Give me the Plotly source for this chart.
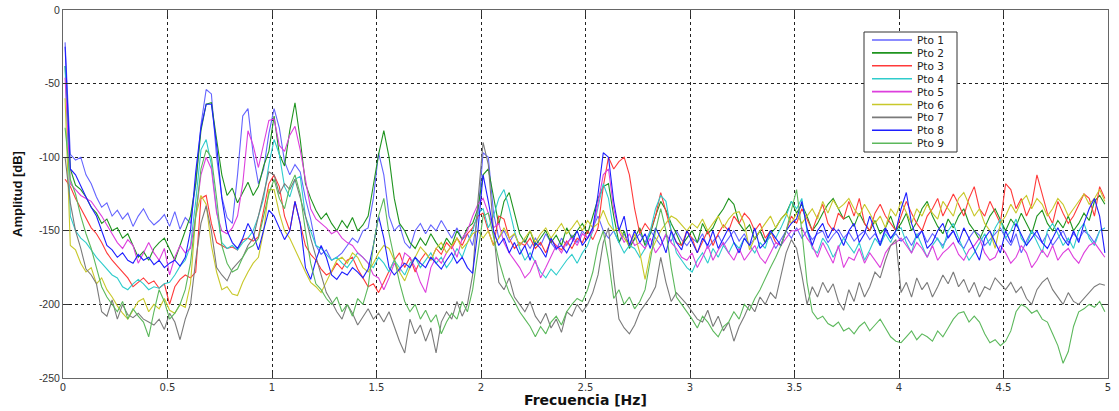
import numpy as np
import plotly.graph_objects as go

# Frequency bins [Hz]
freq = np.round(0.01 + 0.025 * np.arange(200), 4)

names = ["Pto 1", "Pto 2", "Pto 3", "Pto 4", "Pto 5", "Pto 6", "Pto 7", "Pto 8", "Pto 9"]

pto1 = [
    -22, -98, -102, -100, -112, -118, -127, -134, -131, -140,
    -136, -142, -138, -147, -140, -135, -142, -146, -143, -139,
    -147, -137, -149, -141, -145, -118, -78, -54, -57, -100,
    -127, -141, -145, -112, -72, -67, -98, -118, -108, -84,
    -67, -80, -103, -112, -105, -110, -128, -142, -160, -166,
    -163, -170, -168, -165, -160, -155, -158, -150, -148, -128,
    -97, -112, -140, -150, -146, -158, -162, -150, -145, -152,
    -146, -150, -143, -149, -155, -148, -156, -152, -160, -140,
    -97, -100, -138, -155, -150, -158, -152, -160, -156, -162,
    -155, -160, -152, -158, -163, -155, -160, -153, -158, -150,
    -155, -148, -140, -150, -155, -150, -158, -152, -160, -156,
    -152, -158, -150, -155, -160, -153, -157, -150, -156, -160,
    -155, -158, -152, -162, -157, -153, -160, -155, -150, -157,
    -152, -160, -155, -150, -158, -154, -162, -156, -150, -155,
    -148, -155, -150, -156, -152, -150, -158, -153, -149, -155,
    -151, -157, -153, -150, -156, -152, -158, -150, -155, -152,
    -157, -154, -160, -153, -150, -158, -152, -156, -160, -154,
    -150, -158, -162, -155, -150, -153, -160, -156, -152, -148,
    -155, -160, -152, -165, -157, -150, -154, -158, -152, -160,
    -155, -150, -158, -152, -156, -150, -153, -158, -150, -148,
]

pto2 = [
    -38, -108, -119, -122, -127, -134, -138, -145, -142, -150,
    -148, -155, -152, -160, -168, -164, -170, -162, -158, -155,
    -163, -170, -160, -150, -140, -118, -82, -64, -63, -88,
    -112, -126, -121, -131, -124, -117, -126, -120, -106, -96,
    -72, -98, -106, -82, -63, -88, -118, -128, -136, -142,
    -138, -145, -150, -143, -148, -141, -150, -146, -140, -120,
    -98, -82, -100, -128, -145, -150, -158, -162, -155, -160,
    -152, -158, -163, -155, -160, -150, -156, -148, -145, -135,
    -112, -108, -128, -146, -130, -124, -138, -152, -158, -150,
    -160, -155, -150, -158, -153, -160, -148, -155, -150, -145,
    -152, -140, -128, -120, -118, -140, -158, -150, -162, -155,
    -148, -160, -152, -140, -130, -136, -145, -152, -160, -155,
    -150, -158, -145, -152, -148, -140, -135, -128, -132, -145,
    -150, -146, -156, -150, -158, -152, -148, -142, -138, -130,
    -138, -132, -140, -150, -145, -138, -132, -128, -135, -142,
    -140, -147, -138, -145, -150, -143, -152, -148, -140, -150,
    -145, -138, -150, -144, -135, -130, -140, -147, -152, -142,
    -148, -140, -135, -145, -150, -156, -148, -140, -135, -143,
    -150, -142, -147, -138, -145, -152, -140, -136, -145, -150,
    -143, -148, -140, -150, -145, -138, -143, -130, -126, -132,
]

pto3 = [
    -115, -120, -128, -135, -142, -148, -152, -158, -165, -170,
    -174, -178, -182, -188, -185, -182, -186, -184, -189, -186,
    -200, -188, -183, -180, -182, -178, -128, -126, -145, -158,
    -160, -162, -161, -163, -156, -155, -157, -154, -136, -118,
    -112, -120, -140, -150, -130, -145, -160, -166, -170, -176,
    -180, -178, -172, -176, -170, -168, -176, -182, -188, -186,
    -192, -185, -178, -170, -165, -175, -168, -178, -170, -165,
    -170, -162, -166, -158, -162, -155, -160, -152, -148, -140,
    -138, -150, -160, -140, -142, -155, -162, -158, -160, -155,
    -162, -158, -165, -156, -160, -163, -157, -162, -155, -158,
    -150, -156, -148, -120, -100, -108, -103, -100, -112, -135,
    -152, -145, -150, -140, -124, -138, -150, -158, -160, -150,
    -155, -165, -158, -150, -160, -152, -146, -150, -140, -145,
    -138, -142, -150, -145, -155, -150, -158, -160, -150, -140,
    -145, -135, -142, -150, -140, -132, -145, -150, -138, -142,
    -130, -140, -128, -145, -150, -138, -132, -140, -145, -150,
    -140, -130, -138, -145, -150, -140, -135, -128, -140, -132,
    -125, -132, -140, -128, -120, -135, -140, -130, -138, -145,
    -118, -122, -135, -128, -140, -132, -112, -125, -138, -145,
    -130, -138, -145, -140, -132, -125, -128, -140, -120, -128,
]

pto4 = [
    -38, -140, -150, -155, -158, -163, -168, -172, -176, -180,
    -182, -188, -190, -186, -183, -186, -190, -188, -189, -186,
    -185, -180, -174, -170, -160, -130, -95, -88, -105, -136,
    -158, -162, -160, -163, -158, -155, -150, -140, -128, -105,
    -88, -98, -120, -127, -115, -113, -140, -150, -160, -162,
    -166, -170, -168, -172, -175, -170, -165, -168, -172, -175,
    -168, -172, -178, -170, -175, -180, -172, -168, -175, -170,
    -165, -172, -168, -175, -170, -162, -168, -158, -150, -138,
    -135, -148, -140, -128, -122, -135, -150, -162, -170, -165,
    -172, -178, -182, -176, -180, -175, -170, -166, -172, -165,
    -160, -150, -135, -118, -128, -150, -158, -165, -160, -162,
    -168, -162, -150, -135, -126, -130, -150, -165, -170, -175,
    -178, -170, -165, -172, -162, -168, -160, -165, -158, -162,
    -155, -160, -165, -158, -162, -150, -155, -148, -140, -130,
    -135, -128, -150, -162, -165, -155, -160, -168, -162, -155,
    -160, -165, -158, -170, -163, -155, -160, -152, -158, -150,
    -148, -158, -165, -152, -160, -168, -160, -155, -162, -150,
    -145, -155, -163, -170, -165, -158, -152, -160, -148, -142,
    -155, -150, -142, -155, -160, -150, -158, -165, -150, -145,
    -152, -160, -155, -162, -150, -145, -155, -160, -150, -148,
]

pto5 = [
    -46, -118, -122, -126, -128, -130, -135, -140, -146, -152,
    -158, -162, -156, -160, -172, -165, -158, -165, -170, -162,
    -180, -168, -160, -165, -162, -140, -112, -100, -108, -138,
    -150, -152, -148, -140, -118, -82, -92, -107, -90, -75,
    -74, -92, -96, -85, -79, -95, -115, -135, -142, -145,
    -148, -152, -150, -155, -158, -160, -165, -168, -172, -180,
    -182, -190, -182, -172, -178, -165, -168, -175, -185, -192,
    -175, -168, -172, -165, -160, -168, -155, -150, -140, -132,
    -128, -138, -148, -145, -158, -165, -170, -175, -182, -178,
    -170, -182, -175, -168, -160, -165, -158, -155, -160, -152,
    -155, -150, -130, -112, -108, -135, -150, -158, -152, -160,
    -158, -162, -155, -165, -160, -152, -158, -162, -168, -170,
    -165, -175, -168, -160, -170, -163, -158, -165, -170, -162,
    -170, -165, -160, -168, -172, -165, -158, -160, -155, -150,
    -150, -148, -155, -160, -168, -158, -165, -172, -160, -175,
    -168, -170, -162, -172, -165, -170, -175, -165, -160, -158,
    -155, -160, -165, -158, -162, -168, -160, -170, -165, -162,
    -158, -166, -170, -163, -160, -155, -165, -170, -168, -160,
    -165, -172, -168, -160, -165, -175, -170, -163, -168, -160,
    -170, -165, -162, -168, -172, -165, -160, -158, -163, -168,
]

pto6 = [
    -60, -160, -163, -172, -178, -175, -186, -182, -190, -195,
    -201, -206, -210, -204, -198, -196, -205, -200, -203, -196,
    -204, -206, -200, -202, -186, -140, -126, -132, -160, -178,
    -190, -188, -193, -194, -185, -178, -172, -168, -150, -122,
    -122, -138, -150, -155, -163, -170, -178, -185, -188, -192,
    -185, -178, -170, -168, -172, -165, -168, -175, -178, -172,
    -165, -160, -162, -170, -178, -184, -175, -168, -161, -165,
    -170, -162, -158, -165, -160, -155, -162, -158, -152, -150,
    -155, -150, -160, -155, -148, -155, -152, -160, -155, -150,
    -158, -152, -148, -155, -150, -145, -152, -148, -143, -150,
    -143, -148, -145, -136, -145, -150, -148, -155, -160, -152,
    -165, -183, -165, -158, -150, -145, -140, -142, -146, -150,
    -145, -148, -142, -150, -145, -140, -148, -142, -138, -137,
    -145, -163, -155, -150, -145, -140, -148, -142, -138, -145,
    -138, -145, -140, -135, -142, -130, -138, -129, -135, -132,
    -128, -135, -140, -132, -138, -145, -140, -148, -135, -140,
    -130, -138, -145, -135, -140, -132, -138, -142, -130, -135,
    -140, -128, -124, -132, -140, -135, -145, -150, -162, -145,
    -140, -132, -138, -130, -126, -135, -128, -132, -140, -135,
    -128, -132, -140, -135, -130, -125, -132, -128, -122, -130,
]

pto7 = [
    -100, -131, -150, -162, -176, -180, -186, -205, -208, -197,
    -210, -200, -207, -209, -206, -210, -212, -214, -210, -217,
    -206, -212, -224, -210, -200, -170, -145, -133, -150, -175,
    -180, -184, -176, -172, -168, -160, -155, -140, -126, -110,
    -112, -125, -118, -122, -115, -128, -140, -155, -168, -180,
    -192, -198, -205, -210, -200, -206, -214, -208, -203, -210,
    -206, -212, -205, -215, -225, -233, -210, -220, -214, -225,
    -216, -233, -212, -205, -210, -198, -208, -200, -180, -130,
    -90, -105, -150, -185, -190, -182, -195, -200, -205, -198,
    -208, -213, -206, -216, -210, -219, -205, -208, -200, -205,
    -200, -192, -180, -158, -148, -182, -210, -216, -220, -214,
    -205, -200, -195, -188, -168, -185, -198, -192, -196, -200,
    -205, -210, -212, -204, -215, -208, -218, -212, -225, -215,
    -208, -200, -205, -195, -200, -192, -196, -180, -165, -156,
    -162, -180, -200, -188, -195, -185, -192, -186, -198, -204,
    -190, -198, -185, -195, -188, -178, -182, -170, -160, -156,
    -192, -185, -195, -182, -190, -185, -195, -188, -180, -186,
    -178, -188, -183, -192, -185, -195, -188, -190, -182, -186,
    -190, -185, -192, -188, -196, -200, -190, -185, -182, -190,
    -195, -200, -192, -198, -200, -196, -192, -188, -186, -187,
]

pto8 = [
    -25, -108, -112, -120, -127, -134, -140, -150, -160, -163,
    -168, -165, -170, -172, -166, -170, -168, -173, -170, -175,
    -172, -170, -174, -168, -150, -110, -80, -64, -64, -92,
    -128, -150, -158, -162, -155, -145, -152, -163, -150, -136,
    -140, -148, -156, -150, -130, -145, -175, -183, -170, -160,
    -168, -180, -183, -178, -180, -175, -178, -182, -176, -160,
    -140, -155, -175, -180, -176, -172, -175, -168, -172, -175,
    -168, -172, -176, -170, -165, -172, -168, -175, -179, -150,
    -112, -130, -150, -160, -155, -165, -158, -166, -160, -170,
    -158, -162, -168, -155, -162, -160, -165, -158, -150, -160,
    -155, -148, -125, -97, -100, -130, -150, -140, -160, -150,
    -158, -152, -162, -148, -155, -165, -150, -158, -163, -150,
    -158, -165, -155, -160, -150, -162, -155, -148, -158, -165,
    -155, -160, -148, -162, -158, -150, -155, -160, -150, -145,
    -142, -130, -148, -160, -150, -145, -155, -148, -152, -160,
    -150, -145, -158, -152, -140, -150, -160, -148, -155, -150,
    -135, -124, -145, -155, -150, -162, -158, -150, -145, -155,
    -150, -158, -148, -155, -162, -170, -155, -150, -158, -165,
    -150, -158, -145, -152, -160, -155, -150, -158, -162, -155,
    -148, -155, -160, -150, -158, -145, -135, -128, -140, -165,
]

pto9 = [
    -80, -115, -125, -140, -152, -162, -175, -188, -195, -200,
    -205, -198, -210, -203, -208, -212, -222, -205, -190, -198,
    -210, -206, -200, -190, -172, -140, -108, -95, -100, -128,
    -160, -172, -178, -176, -168, -162, -160, -155, -140, -125,
    -115, -128, -135, -120, -112, -125, -150, -172, -186, -190,
    -196, -200, -195, -205, -200, -208, -196, -200, -188, -160,
    -140, -128, -152, -168, -185, -198, -205, -200, -210, -204,
    -212, -207, -220, -212, -206, -210, -198, -205, -190, -165,
    -140, -138, -155, -170, -182, -192, -198, -205, -210, -215,
    -222, -215, -220, -212, -208, -214, -205, -200, -196, -198,
    -190, -178, -160, -150, -170, -196, -190, -200, -195, -203,
    -198, -190, -170, -150, -135, -150, -175, -195, -200, -205,
    -210, -216, -208, -212, -218, -222, -215, -212, -205, -210,
    -200, -204, -196, -190, -182, -175, -168, -160, -150, -135,
    -122, -150, -185, -205, -210, -208, -213, -215, -212, -218,
    -216, -220, -215, -212, -218, -214, -210, -216, -222, -225,
    -226, -222, -218, -224, -220, -222, -225, -218, -222, -216,
    -210, -206, -205, -212, -208, -212, -220, -226, -224, -228,
    -225, -218, -205, -200, -202, -206, -204, -210, -212, -220,
    -228, -240, -232, -215, -205, -203, -200, -202, -198, -205,
]

series = [pto1, pto2, pto3, pto4, pto5, pto6, pto7, pto8, pto9]
colors = ["#6464ff", "#1f941f", "#ff3a3a", "#2fcccc", "#dd3fdd",
          "#c8c82a", "#7a7a7a", "#1e1eff", "#5cb85c"]

for s in series:
    assert len(s) == len(freq)

fig = go.Figure()
for name, vals, col in zip(names, series, colors):
    fig.add_trace(go.Scatter(
        x=freq, y=vals, mode="lines", name=name,
        line=dict(color=col, width=1.1), showlegend=False,
    ))

W, H = 1119, 411
ML, MR, MT, MB = 63, 11, 10, 33
PW, PH = W - ML - MR, H - MT - MB


def px_x(px):
    return (px - ML) / PW


def px_y(py):
    return 1 - (py - MT) / PH


# Boxed legend drawn with shapes and text
shapes = [dict(type="rect", xref="paper", yref="paper",
               x0=px_x(864), x1=px_x(957), y0=px_y(152), y1=px_y(32),
               line=dict(color="#333333", width=1), fillcolor="white", layer="above")]
annotations = []
for k, (name, col) in enumerate(zip(names, colors)):
    yy = px_y(40 + 12.9 * k)
    shapes.append(dict(type="line", xref="paper", yref="paper",
                       x0=px_x(872), x1=px_x(912), y0=yy, y1=yy,
                       line=dict(color=col, width=1.6), layer="above"))
    annotations.append(dict(xref="paper", yref="paper", x=px_x(915), y=yy,
                            text=name, showarrow=False, xanchor="left", yanchor="middle",
                            font=dict(family="DejaVu Sans", size=10.5, color="#222")))

annotations.append(dict(xref="paper", yref="paper", x=0.5, y=px_y(400),
                        text="<b>Frecuencia [Hz]</b>", showarrow=False,
                        xanchor="center", yanchor="middle",
                        font=dict(family="DejaVu Sans", size=14, color="#111")))
annotations.append(dict(xref="paper", yref="paper", x=px_x(17), y=0.5,
                        text="<b>Amplitud [dB]</b>", showarrow=False, textangle=-90,
                        xanchor="center", yanchor="middle",
                        font=dict(family="Liberation Sans, Arial", size=13, color="#111")))

fig.update_layout(
    width=W, height=H,
    margin=dict(l=ML, r=MR, t=MT, b=MB, autoexpand=False),
    paper_bgcolor="white", plot_bgcolor="white",
    shapes=shapes, annotations=annotations,
    showlegend=False,
)
fig.update_xaxes(
    range=[0, 5], tickmode="array", automargin=False,
    tickvals=[0, 0.5, 1, 1.5, 2, 2.5, 3, 3.5, 4, 4.5, 5],
    ticktext=["0", "0.5", "1", "1.5", "2", "2.5", "3", "3.5", "4", "4.5", "5"],
    showgrid=True, gridcolor="#222", griddash="dot", gridwidth=1,
    zeroline=False, showline=True, linecolor="#666", linewidth=1, mirror="ticks",
    ticks="inside", ticklen=6, tickcolor="#333",
    tickfont=dict(family="DejaVu Sans", size=10, color="#333"),
)
fig.update_yaxes(
    range=[-250, 0], tickmode="array", automargin=False,
    tickvals=[0, -50, -100, -150, -200, -250],
    ticktext=["0", "-50", "-100", "-150", "-200", "-250"],
    showgrid=True, gridcolor="#222", griddash="dot", gridwidth=1,
    zeroline=False, showline=True, linecolor="#666", linewidth=1, mirror="ticks",
    ticks="inside", ticklen=6, tickcolor="#333",
    tickfont=dict(family="Liberation Sans, Arial", size=10.5, color="#333"),
)

fig.write_html("out.html")
